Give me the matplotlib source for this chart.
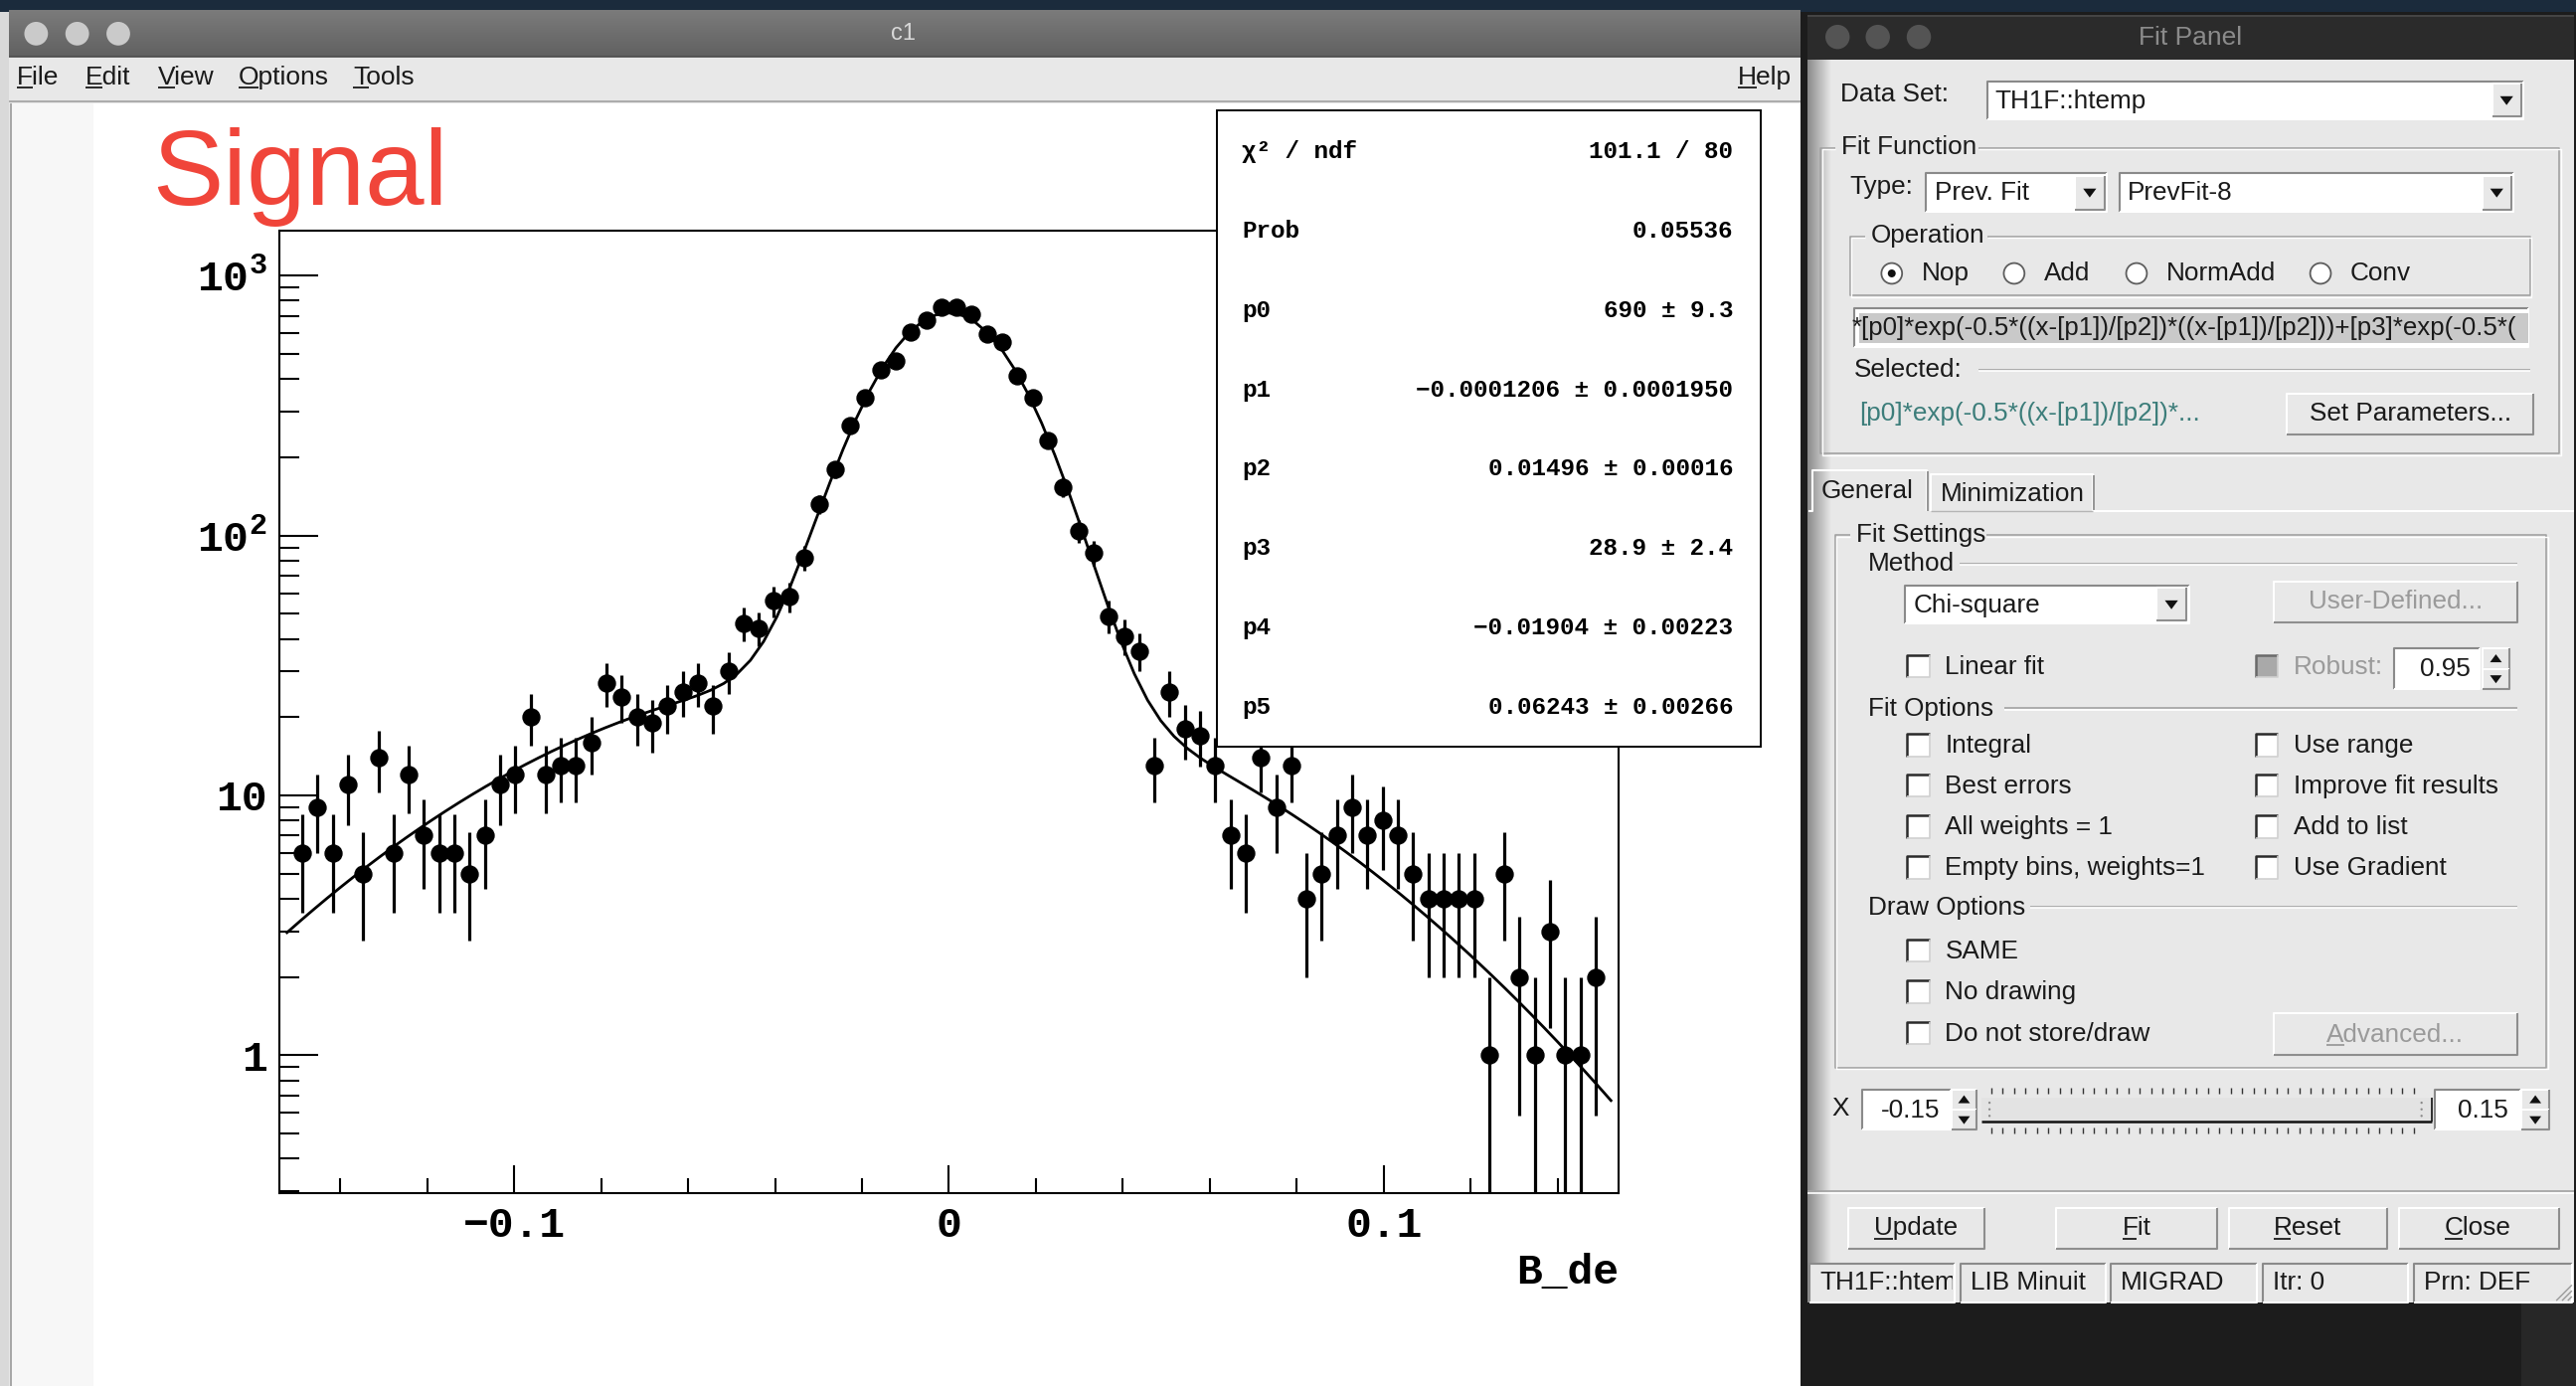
import numpy as np
import matplotlib.pyplot as plt
from matplotlib.patches import Rectangle, Circle, Polygon
from matplotlib.ticker import NullFormatter

# htemp histogram, shown on the zoomed axis range (bin width 0.0035)
x_lo, x_hi, n_bins = -0.154, 0.154, 88
counts = [0,
          6, 9, 6, 11, 5, 14, 6, 12, 7, 6,
          6, 5, 7, 11, 12, 20, 12, 13, 13, 16,
          27, 24, 20, 19, 22, 25, 27, 22, 30, 46,
          44, 56, 58, 82, 132, 179, 264, 338, 434, 471,
          604, 675, 753, 753, 713, 594, 556, 410, 338, 232,
          153, 104, 86, 49, 41, 36, 13, 25, 18, 17,
          13, 7, 6, 14, 9, 13, 4, 5, 7, 9,
          7, 8, 7, 5, 4, 4, 4, 4, 1, 5,
          2, 1, 3, 1, 1, 2,
          0]

# double gaussian fit result
par_names = ['p0', 'p1', 'p2', 'p3', 'p4', 'p5']
par_vals = [690, -0.0001206, 0.01496, 28.9, -0.01904, 0.06243]
par_errs = [9.3, 0.0001950, 0.00016, 2.4, 0.00223, 0.00266]
par_digits = [(0, 1), (7, 7), (5, 5), (1, 1), (5, 5), (5, 5)]
chi2, ndf, prob = 101.1, 80, 0.05536

y_lo, y_hi = 0.294, 1489.0
x_major = [-0.1, 0.0, 0.1]
x_major_labels = ['\u22120.1', '0', '0.1']
y_major = [1, 10, 100, 1000]
y_major_labels = ['1', '10', r'$\mathbf{10^{2}}$', r'$\mathbf{10^{3}}$']
x_title = 'B_de'
pad_title = 'Signal'

plt.rcParams['mathtext.fontset'] = 'custom'
plt.rcParams['mathtext.rm'] = 'Liberation Mono'
plt.rcParams['mathtext.it'] = 'Liberation Mono'
plt.rcParams['mathtext.bf'] = 'Liberation Mono:bold'

W, H = 1568.0, 844.0          # layout units of the screen
PANEL = '#e8e8e8'
SANS = ['Liberation Sans', 'DejaVu Sans']
MONO = ['Liberation Mono', 'DejaVu Sans Mono']
ui = dict(family=SANS, fontsize=18.8, color='#1a1a1a', va='center', ha='left')

fig = plt.figure(figsize=(25.91, 13.94), dpi=100)
fig.patch.set_facecolor('#161616')

g = fig.add_axes([0, 0, 1, 1])
g.axis('off')
Z = [1]


def nz():
    Z[0] += 1
    return Z[0]


def box(x0, y0, x1, y1, fc, ec='none', lw=0.0):
    g.add_patch(Rectangle((x0, y0), x1 - x0, y1 - y0, facecolor=fc,
                          edgecolor=ec, linewidth=lw, zorder=nz()))


def seg(xs, ys, c, lw=1.3):
    g.plot(xs, ys, color=c, lw=lw, solid_capstyle='butt', zorder=nz())


def label(x, y, s, **kw):
    opts = dict(ui)
    opts.update(kw)
    return g.text(x, y, s, zorder=100000, **opts)


def clip(t, x0, y0, x1, y1):
    t.set_clip_path(Rectangle((x0, y0), x1 - x0, y1 - y0, transform=g.transData))
    t.set_clip_on(True)


def raised(x0, y0, x1, y1, fc=PANEL):
    box(x0, y0, x1, y1, fc)
    seg([x0, x0, x1], [y1, y0, y0], 'white', 1.5)
    seg([x0, x1, x1], [y1, y1, y0], '#8e8e8e', 1.5)


def sunken(x0, y0, x1, y1, fc='white'):
    box(x0, y0, x1, y1, fc)
    seg([x0, x0, x1], [y1, y0, y0], '#8a8a8a', 1.5)
    seg([x0, x1, x1], [y1, y1, y0], 'white', 1.5)


def tri(cx, cy, up=False, s=4.0, c='#111111'):
    d = -1 if up else 1
    g.add_patch(Polygon([[cx - s, cy - d * s * 0.6], [cx + s, cy - d * s * 0.6],
                         [cx, cy + d * s * 0.75]], closed=True, facecolor=c,
                        edgecolor='none', zorder=nz()))


def combo(x0, y0, x1, y1, s, bx0):
    sunken(x0, y0, x1, y1)
    raised(bx0, y0 + 1.5, x1 - 1.5, y1 - 1.5)
    tri((bx0 + x1 - 1.5) / 2, (y0 + y1) / 2)
    label(x0 + 5, (y0 + y1) / 2 + 0.5, s)


def etched(x0, x1, y):
    seg([x0, x1], [y, y], '#a2a2a2', 1.2)
    seg([x0, x1], [y + 1, y + 1], 'white', 1.2)


def group(x0, y0, x1, y1, title, tx, tw):
    seg([tx + tw, x1, x1, x0, x0, tx - 4], [y0, y0, y1, y1, y0, y0], '#a2a2a2', 1.2)
    seg([tx + tw, x1 + 1, x1 + 1, x0 + 1, x0 + 1, tx - 4],
        [y0 + 1, y0 + 1, y1 + 1, y1 + 1, y0 + 1, y0 + 1], 'white', 1.0)
    label(tx, y0 - 0.5, title)


def check(x, y, s, grey=False):
    k = 13.5
    box(x, y - k / 2, x + k, y + k / 2, '#a9a9a9' if grey else 'white')
    seg([x, x, x + k], [y + k / 2, y - k / 2, y - k / 2], '#6a6a6a' if grey else '#2a2a2a', 1.8)
    seg([x, x + k, x + k], [y + k / 2, y + k / 2, y - k / 2], '#d0d0d0', 1.2)
    label(x + 23, y + 0.5, s, color='#9a9a9a' if grey else '#1a1a1a')


def radio(x, y, s, on=False):
    g.add_patch(Circle((x, y), 6.3, facecolor='white', edgecolor='#5e5e5e',
                       linewidth=1.3, zorder=nz()))
    if on:
        g.add_patch(Circle((x, y), 2.4, facecolor='#111111', zorder=nz()))
    label(x + 18, y, s)


def under(x0, x1, y, c='#1a1a1a'):
    seg([x0, x1], [y, y], c, 1.3)


def spin(x0, y0, x1, y1):
    ym = (y0 + y1) / 2
    raised(x0, y0, x1, ym)
    raised(x0, ym, x1, y1)
    tri((x0 + x1) / 2, (y0 + ym) / 2, up=True, s=3.6)
    tri((x0 + x1) / 2, (ym + y1) / 2, up=False, s=3.6)


def rgb(c):
    return np.array([int(c[i:i + 2], 16) for i in (1, 3, 5)]) / 255


def vgrad(x0, y0, x1, y1, c0, c1):
    t = np.linspace(0, 1, 64)[:, None, None]
    g.imshow(rgb(c0) + (rgb(c1) - rgb(c0)) * t, extent=(x0, x1, y1, y0),
             aspect='auto', interpolation='bilinear', zorder=nz())


def hgrad(x0, y0, x1, y1, c0, c1):
    t = np.linspace(0, 1, 64)[None, :, None]
    g.imshow(rgb(c0) + (rgb(c1) - rgb(c0)) * t, extent=(x0, x1, y1, y0),
             aspect='auto', interpolation='bilinear', zorder=nz())


# ---- desktop ----
box(0, 0, W, 7, '#1b2b3c')
box(0, 7, 5.5, H, '#d9d9d9')
box(1096, 7, W, H, '#1c1c1c')
box(1535, 793, W, H, '#272727')

# ---- canvas window c1 ----
box(5.5, 6.5, 1096, H, PANEL)
vgrad(5.5, 6.5, 1096, 34.5, '#7b7b7b', '#616161')
seg([5.5, 1096], [34.5, 34.5], '#4b4b4b', 1.2)
for cx in (22, 47, 72):
    g.add_patch(Circle((cx, 20.5), 7.2, facecolor='#cacaca', zorder=nz()))
label(550, 20.5, 'c1', ha='center', color='#d8d8d8', fontsize=17)
for x, s, w in [(10, 'File', 9.8), (52, 'Edit', 10.4), (96, 'View', 10.6),
                (145, 'Options', 12.4), (215, 'Tools', 9.6), (1058, 'Help', 11.4)]:
    label(x, 47.5, s, fontsize=19)
    under(x, x + w, 53.5)
seg([5.5, 1096], [62, 62], '#a6a6a6', 1.3)
box(7, 63, 1096, H, 'white')
box(7, 63, 57, H, '#f7f7f7')
seg([6.5, 6.5], [63, H], '#9c9c9c', 1.2)

# ---- fit panel window ----
box(1100, 9, 1567, 793, PANEL)
box(1100, 9, 1567, 36.5, '#2b2b2b')
seg([1100, 1567], [9.5, 9.5], '#4a4a4a', 1.2)
for cx in (1118.5, 1143, 1168):
    g.add_patch(Circle((cx, 22.5), 7.4, facecolor='#545454', zorder=nz()))
label(1333, 23, 'Fit Panel', ha='center', color='#8b8b8b', fontsize=19)
hgrad(1100, 36.5, 1114, 793, '#8a8a8a', '#e8e8e8')

label(1120, 57.5, 'Data Set:')
combo(1209.5, 49.5, 1536, 72.5, 'TH1F::htemp', 1517)

group(1108, 90, 1558, 276, 'Fit Function', 1121, 83)
label(1126, 114, 'Type:')
combo(1172.5, 105.5, 1282.5, 129, 'Prev. Fit', 1263)
combo(1290, 105.5, 1530, 129, 'PrevFit-8', 1511)

group(1126, 144, 1540, 180, 'Operation', 1139, 71)
radio(1151.5, 166.5, 'Nop', on=True)
radio(1226, 166.5, 'Add')
radio(1300.5, 166.5, 'NormAdd')
radio(1412.5, 166.5, 'Conv')

sunken(1128.5, 187.5, 1539, 211)
box(1131.5, 190.5, 1539, 209, '#c9c9c9')
label(1127, 200, '*[p0]*exp(-0.5*((x-[p1])/[p2])*((x-[p1])/[p2]))+[p3]*exp(-0.5*(', fontsize=18.6)

label(1128.5, 225, 'Selected:')
etched(1204, 1540, 225)
label(1132, 252, '[p0]*exp(-0.5*((x-[p1])/[p2])*...', color='#3c7d7a')
raised(1392, 239.5, 1542, 264.5)
label(1467, 252, 'Set Parameters...', ha='center')

# tabs
seg([1101, 1103, 1103, 1173, 1173], [311, 311, 286.5, 286.5, 311], 'white', 1.5)
seg([1173.5, 1173.5], [287, 311], '#8e8e8e', 1.3)
seg([1175.5, 1175.5, 1274, 1274], [311, 289, 289, 311], 'white', 1.5)
seg([1274.5, 1274.5], [289.5, 311], '#8e8e8e', 1.3)
seg([1274, 1567], [311, 311], 'white', 1.5)
seg([1175, 1274], [311.5, 311.5], '#b5b5b5', 1.0)
label(1108.5, 299, 'General')
label(1181, 301, 'Minimization')

group(1117, 326, 1550, 650, 'Fit Settings', 1130, 79)
label(1137, 343.5, 'Method')
etched(1193, 1532, 343)
combo(1159.5, 356.5, 1332.5, 379.5, 'Chi-square', 1312.5)
raised(1384, 354, 1532.5, 379)
label(1458, 366.5, 'User-Defined...', ha='center', color='#9a9a9a')

check(1161, 405.5, 'Linear fit')
check(1373, 405.5, 'Robust:', grey=True)
sunken(1457.5, 395, 1509.5, 419.5)
label(1504, 407.5, '0.95', ha='right')
spin(1511, 395, 1527.5, 419.5)

label(1137, 431.5, 'Fit Options')
etched(1220, 1532, 431)
for y, a, b in [(453.7, 'Integral', 'Use range'),
                (478.5, 'Best errors', 'Improve fit results'),
                (503.4, 'All weights = 1', 'Add to list'),
                (528.2, 'Empty bins, weights=1', 'Use Gradient')]:
    check(1161, y, a)
    check(1373, y, b)

label(1137, 552.5, 'Draw Options')
etched(1236, 1532, 552)
check(1161, 579, 'SAME')
check(1161, 604, 'No drawing')
check(1161, 629, 'Do not store/draw')
raised(1384, 617, 1532.5, 642.5)
label(1416, 630, 'Advanced...', color='#9a9a9a')
under(1416, 1427, 636.5, '#9a9a9a')

# x range slider
label(1115, 675, 'X')
sunken(1133.5, 663.5, 1187.5, 688)
label(1181, 676, '-0.15', ha='right')
spin(1188, 663.5, 1203, 688)
for tx in np.arange(1212, 1472, 6.95):
    seg([tx, tx], [662.5, 666], '#333333', 1.0)
    seg([tx, tx], [686.5, 690], '#333333', 1.0)
box(1206, 668.5, 1480.5, 683, '#e3e3e3')
seg([1206, 1480.5], [683, 683], '#111111', 1.8)
seg([1480.5, 1480.5], [668.5, 683], '#111111', 1.2)
for gx in (1211, 1474):
    for gy in (671.5, 675.5, 679.5):
        g.add_patch(Circle((gx, gy), 0.7, facecolor='#8a8a8a', zorder=nz()))
sunken(1482, 663.5, 1534, 688)
label(1527, 676, '0.15', ha='right')
spin(1535, 663.5, 1551.5, 688)

etched(1100, 1567, 725.5)
for x0, x1, s, tx, uw in [(1125, 1208, 'Update', 1141, 11.2), (1251.5, 1349.5, 'Fit', 1292, 8.5),
                          (1356.5, 1453, 'Reset', 1384, 10.6), (1460, 1558, 'Close', 1488, 11.3)]:
    raised(x0, 735.5, x1, 760.5)
    label(tx, 747.5, s)
    under(tx, tx + uw, 754.5)

# status bar
for x0, x1, s in [(1101.5, 1190, 'TH1F::htemp'), (1193.5, 1281.5, 'LIB Minuit'),
                  (1285, 1374, 'MIGRAD'), (1377.5, 1466, 'Itr: 0'), (1469.5, 1565.5, 'Prn: DEF')]:
    sunken(x0, 769.5, x1, 793, PANEL)
    t = label(x0 + 6, 781, s)
    clip(t, x0 + 1, 770, x1 - 1.5, 792)
for k in range(3):
    seg([1556 + 3.5 * k, 1565.5], [792, 782.5 + 3.5 * k], '#9a9a9a', 1.0)

g.set_xlim(0, W)
g.set_ylim(H, 0)

# ---- histogram pad ----
L, R, T, B = 170.06, 985.2, 140.4, 726.8
ax = fig.add_axes([L / W, 1 - B / H, (R - L) / W, (B - T) / H])
ax.set_facecolor('white')

edges = np.linspace(x_lo, x_hi, n_bins + 1)
centers = 0.5 * (edges[:-1] + edges[1:])
n = np.array(counts, dtype=float)
keep = n > 0
xc, yc = centers[keep], n[keep]
err = np.sqrt(yc)
ax.vlines(xc, np.maximum(yc - err, y_lo * 0.5), yc + err, colors='black', lw=2.3, zorder=3)
ax.plot(xc, yc, 'o', color='black', ms=12.2, zorder=4)

# fitted function, drawn between the outermost bin centres (npx = 100)
p0, p1, p2, p3, p4, p5 = par_vals
xf = np.linspace(centers[0], centers[-1], 101)
yf = p0 * np.exp(-0.5 * ((xf - p1) / p2) ** 2) + p3 * np.exp(-0.5 * ((xf - p4) / p5) ** 2)
ax.plot(xf, yf, color='black', lw=2.0, zorder=5)

ax.set_xlim(x_lo, x_hi)
ax.set_yscale('log')
ax.set_ylim(y_lo, y_hi)
ax.set_xticks(x_major)
ax.set_xticklabels(x_major_labels)
ax.set_xticks([v for v in np.round(np.arange(-0.14, 0.141, 0.02), 2) if abs(v) > 1e-9 and abs(abs(v) - 0.1) > 1e-9],
              minor=True)
ax.set_yticks(y_major)
ax.set_yticklabels(y_major_labels)
ax.set_yticks([m * 10.0 ** d for d in range(-1, 3) for m in range(2, 10) if y_lo < m * 10.0 ** d < y_hi],
              minor=True)
ax.yaxis.set_minor_formatter(NullFormatter())
ax.tick_params(which='both', direction='in', top=False, right=False, width=1.5,
               labelsize=31, labelfontfamily='Liberation Mono')
ax.tick_params(axis='x', which='major', length=20, pad=9)
ax.tick_params(axis='x', which='minor', length=10.5)
ax.tick_params(axis='y', which='major', length=28, pad=9)
ax.tick_params(axis='y', which='minor', length=14.5)
for t in ax.get_xticklabels() + ax.get_yticklabels():
    t.set_fontweight('bold')
for sp in ax.spines.values():
    sp.set_linewidth(1.5)
ax.text(1.0, -0.082, x_title, transform=ax.transAxes, ha='right', va='center',
        fontsize=31, family=MONO, fontweight='bold')

# ---- pad title and statistics box on top ----
top = fig.add_axes([0, 0, 1, 1])
top.axis('off')
top.set_xlim(0, W)
top.set_ylim(H, 0)
top.text(93, 124.5, pad_title, color='#f0453a', fontsize=77, family=SANS, va='baseline')

top.add_patch(Rectangle((740.5, 67.5), 331.5, 387, facecolor='white', edgecolor='black', lw=1.4))
rows = [('\u03c7\u00b2 / ndf', f'{chi2:.1f} / {ndf}'), ('Prob', f'{prob:.5f}')]
for name, v, e, (dv, de) in zip(par_names, par_vals, par_errs, par_digits):
    rows.append((name, f'{v:.{dv}f} \u00b1 {e:.{de}f}'.replace('-', '\u2212')))
for i, (name, val) in enumerate(rows):
    y = 92.5 + 48.3 * i
    top.text(756, y, name, fontsize=17.5, family=MONO, fontweight='bold', va='center', ha='left')
    top.text(1055, y, val, fontsize=17.5, family=MONO, fontweight='bold', va='center', ha='right')

fig.savefig('out.png', dpi=100, facecolor=fig.get_facecolor())
